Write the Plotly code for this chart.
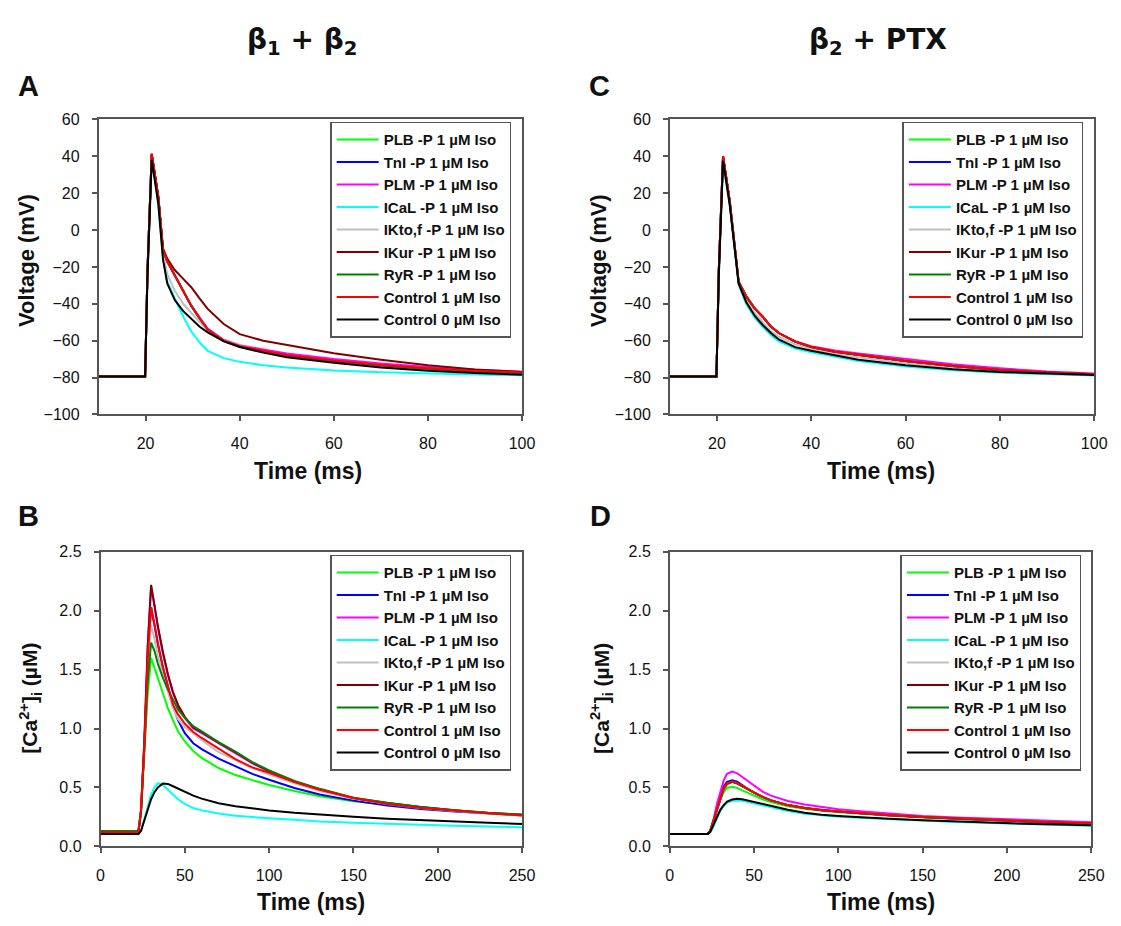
import plotly.graph_objects as go

# ---------------- data ----------------
SERIES = ["PLB -P 1 µM Iso", "TnI -P 1 µM Iso", "PLM -P 1 µM Iso", "ICaL -P 1 µM Iso",
          "IKto,f -P 1 µM Iso", "IKur -P 1 µM Iso", "RyR -P 1 µM Iso",
          "Control 1 µM Iso", "Control 0 µM Iso"]
COLORS = ["#00ff00", "#0000ff", "#ff00ff", "#00ffff", "#c0c0c0", "#800000", "#008000", "#ff0000", "#000000"]

# action potential time (ms)
T_AP = [10, 19.9, 20.4, 21.3, 22.7, 23.7, 24.6, 26.2, 28, 29.7, 31.5, 33.2, 36.6, 40, 45, 50, 60, 70, 80, 90, 100]

# Panel A: beta1 + beta2 voltage (mV)
A_PLB   = [-79.5, -79.5, -22, 41.0, 18, -11, -17, -24.5, -33, -41, -48, -54, -60.0, -63.2, -65.8, -68.2, -71.3, -73.8, -75.6, -76.9, -77.7]
A_TNI   = [-79.5, -79.5, -22, 41.0, 18, -11, -17, -24.5, -33, -41, -48, -54, -60.0, -63.3, -66.0, -68.4, -71.5, -74.0, -75.8, -77.1, -77.9]
A_PLM   = [-79.5, -79.5, -22, 41.5, 18, -11, -17, -24.5, -33, -41, -47.5, -53.5, -59.5, -62.5, -64.8, -67.0, -70.0, -72.4, -74.3, -75.8, -76.8]
A_ICAL  = [-79.5, -79.5, -25, 40.0, 15, -15, -28, -37.0, -47, -55, -61, -65.5, -69.5, -71.5, -73.3, -74.6, -76.2, -77.2, -77.9, -78.4, -78.8]
A_IKTO  = [-79.5, -79.5, -24, 40.0, 16, -13, -24, -33.0, -40, -45, -50, -54, -59.8, -62.8, -65.8, -68.3, -71.3, -73.8, -75.7, -77.0, -78.0]
A_IKUR  = [-79.5, -79.5, -22, 41.0, 18, -10, -15.5, -21.7, -26.5, -31, -37.2, -42.8, -51, -56.5, -60, -62.3, -66.8, -70.3, -73.3, -75.6, -77.0]
A_RYR   = [-79.5, -79.5, -22, 41.0, 18, -11, -17, -24.5, -33, -41, -48, -54, -60.0, -63.0, -65.7, -68.0, -71.0, -73.5, -75.3, -76.7, -77.5]
A_CTRL1 = [-79.5, -79.5, -22, 41.5, 18, -11, -17, -24.5, -33, -41, -48, -54, -60.0, -63.0, -65.5, -67.8, -70.8, -73.2, -75.0, -76.4, -77.3]
A_CTRL0 = [-79.5, -79.5, -25, 38.0, 14, -16, -29, -38.0, -44, -48.4, -52.5, -55.5, -60.4, -63.4, -66.5, -69.0, -72.0, -74.5, -76.3, -77.6, -78.5]

# Panel C: beta2 + PTX voltage (mV)
C_PLB   = [-79.5, -79.5, -22, 40.0, 16, -8, -28, -36, -42.5, -47, -52.5, -56, -60.5, -63.5, -66.1, -67.9, -71.2, -74.0, -76.0, -77.4, -78.3]
C_TNI   = [-79.5, -79.5, -22, 40.0, 16, -8, -28, -36, -42.5, -47, -52.5, -56, -60.5, -63.4, -66.0, -67.8, -71.1, -73.9, -76.0, -77.3, -78.2]
C_PLM   = [-79.5, -79.5, -22, 40.0, 16, -8, -28, -36, -42.5, -47, -52.5, -56, -60.3, -63.0, -65.3, -67.0, -70.0, -72.8, -75.0, -76.7, -77.8]
C_ICAL  = [-79.5, -79.5, -25, 37.0, 14, -10, -29.5, -40, -47.5, -52.5, -57, -60.5, -64.3, -66.3, -68.8, -71.0, -74.0, -76.0, -77.4, -78.3, -78.9]
C_IKTO  = [-79.5, -79.5, -24, 38.0, 15, -9, -28.5, -38, -45, -50, -55, -58, -62.0, -64.5, -67.0, -69.0, -72.3, -74.8, -76.5, -77.7, -78.5]
C_IKUR  = [-79.5, -79.5, -22, 40.0, 16, -8, -28, -36, -42.5, -47, -52.5, -56, -60.5, -63.4, -66.0, -67.7, -71.0, -73.8, -75.9, -77.3, -78.2]
C_RYR   = [-79.5, -79.5, -22, 40.0, 16, -8, -28, -36, -42.5, -47, -52.5, -56, -60.5, -63.4, -66.0, -67.7, -71.0, -73.8, -75.9, -77.3, -78.2]
C_CTRL1 = [-79.5, -79.5, -22, 40.0, 16, -8, -28, -36, -42.5, -47, -52.5, -56, -60.5, -63.4, -66.0, -67.7, -71.0, -73.8, -75.9, -77.3, -78.2]
C_CTRL0 = [-79.5, -79.5, -25, 37.5, 14, -10, -29, -39, -46.5, -51.5, -56, -59.5, -63.5, -65.5, -68.0, -70.3, -73.3, -75.5, -77.0, -78.0, -78.6]

# calcium transient time (ms)
T_CA = [0, 22.5, 24, 26, 28, 30, 32, 34, 37, 40, 43, 46, 50, 55, 60, 70, 80, 90, 100, 115, 130, 150, 170, 190, 210, 230, 250]

# Panel B: beta1 + beta2 [Ca2+]i (µM)
B_PLB   = [0.13, 0.13, 0.28, 0.75, 1.30, 1.60, 1.52, 1.43, 1.30, 1.17, 1.07, 0.975, 0.89, 0.81, 0.75, 0.665, 0.605, 0.56, 0.52, 0.47, 0.425, 0.383, 0.352, 0.325, 0.30, 0.28, 0.262]
B_TNI   = [0.12, 0.12, 0.30, 0.85, 1.60, 2.03, 1.88, 1.72, 1.52, 1.35, 1.19, 1.07, 0.96, 0.875, 0.825, 0.745, 0.68, 0.615, 0.565, 0.495, 0.44, 0.388, 0.347, 0.317, 0.295, 0.278, 0.265]
B_PLM   = [0.13, 0.13, 0.30, 0.90, 1.70, 2.20, 2.04, 1.86, 1.64, 1.45, 1.30, 1.19, 1.09, 1.00, 0.96, 0.875, 0.795, 0.705, 0.635, 0.545, 0.48, 0.405, 0.365, 0.331, 0.305, 0.282, 0.267]
B_ICAL  = [0.105, 0.105, 0.13, 0.24, 0.35, 0.44, 0.50, 0.535, 0.52, 0.48, 0.44, 0.40, 0.36, 0.325, 0.305, 0.278, 0.26, 0.248, 0.238, 0.225, 0.21, 0.20, 0.19, 0.181, 0.175, 0.168, 0.161]
B_IKTO  = [0.13, 0.13, 0.29, 0.85, 1.55, 1.88, 1.76, 1.62, 1.45, 1.30, 1.17, 1.08, 1.01, 0.96, 0.90, 0.80, 0.73, 0.665, 0.61, 0.535, 0.47, 0.405, 0.36, 0.325, 0.30, 0.28, 0.262]
B_IKUR  = [0.13, 0.13, 0.30, 0.90, 1.70, 2.22, 2.05, 1.87, 1.65, 1.46, 1.31, 1.20, 1.10, 1.01, 0.97, 0.88, 0.80, 0.71, 0.64, 0.55, 0.485, 0.41, 0.368, 0.333, 0.306, 0.283, 0.268]
B_RYR   = [0.13, 0.13, 0.28, 0.80, 1.40, 1.73, 1.66, 1.55, 1.43, 1.33, 1.24, 1.16, 1.09, 1.02, 0.975, 0.885, 0.805, 0.715, 0.645, 0.555, 0.488, 0.412, 0.37, 0.334, 0.307, 0.284, 0.269]
B_CTRL1 = [0.12, 0.12, 0.30, 0.85, 1.60, 2.03, 1.88, 1.72, 1.52, 1.35, 1.20, 1.12, 1.04, 0.97, 0.92, 0.83, 0.74, 0.67, 0.625, 0.545, 0.48, 0.41, 0.36, 0.325, 0.30, 0.28, 0.262]
B_CTRL0 = [0.105, 0.105, 0.13, 0.22, 0.32, 0.40, 0.46, 0.50, 0.533, 0.53, 0.51, 0.49, 0.46, 0.43, 0.405, 0.365, 0.34, 0.32, 0.305, 0.285, 0.268, 0.25, 0.235, 0.222, 0.21, 0.20, 0.19]

# Panel D: beta2 + PTX [Ca2+]i (µM)
D_PLB   = [0.105, 0.105, 0.13, 0.21, 0.31, 0.40, 0.46, 0.495, 0.506, 0.495, 0.475, 0.455, 0.43, 0.40, 0.375, 0.34, 0.318, 0.302, 0.29, 0.275, 0.26, 0.245, 0.233, 0.221, 0.211, 0.202, 0.194]
D_TNI   = [0.105, 0.105, 0.13, 0.22, 0.34, 0.44, 0.51, 0.548, 0.561, 0.548, 0.52, 0.49, 0.458, 0.42, 0.39, 0.35, 0.325, 0.307, 0.295, 0.278, 0.263, 0.248, 0.235, 0.222, 0.212, 0.203, 0.195]
D_PLM   = [0.105, 0.105, 0.13, 0.23, 0.36, 0.47, 0.56, 0.615, 0.635, 0.62, 0.59, 0.555, 0.515, 0.465, 0.43, 0.385, 0.355, 0.332, 0.315, 0.295, 0.278, 0.258, 0.245, 0.234, 0.224, 0.214, 0.205]
D_ICAL  = [0.105, 0.105, 0.12, 0.17, 0.24, 0.30, 0.34, 0.37, 0.387, 0.39, 0.386, 0.376, 0.362, 0.347, 0.33, 0.30, 0.277, 0.262, 0.252, 0.24, 0.23, 0.218, 0.207, 0.197, 0.189, 0.182, 0.175]
D_IKTO  = [0.105, 0.105, 0.13, 0.22, 0.33, 0.42, 0.49, 0.53, 0.547, 0.535, 0.51, 0.485, 0.455, 0.42, 0.39, 0.35, 0.325, 0.307, 0.295, 0.278, 0.263, 0.248, 0.235, 0.222, 0.212, 0.203, 0.195]
D_IKUR  = [0.105, 0.105, 0.13, 0.22, 0.33, 0.42, 0.49, 0.53, 0.547, 0.535, 0.51, 0.485, 0.455, 0.42, 0.39, 0.35, 0.325, 0.307, 0.295, 0.278, 0.263, 0.248, 0.235, 0.222, 0.212, 0.203, 0.195]
D_RYR   = [0.105, 0.105, 0.13, 0.22, 0.33, 0.42, 0.49, 0.53, 0.547, 0.535, 0.51, 0.485, 0.455, 0.42, 0.39, 0.35, 0.325, 0.307, 0.295, 0.278, 0.263, 0.248, 0.235, 0.222, 0.212, 0.203, 0.195]
D_CTRL1 = [0.105, 0.105, 0.13, 0.22, 0.33, 0.42, 0.49, 0.53, 0.547, 0.535, 0.51, 0.485, 0.455, 0.42, 0.39, 0.35, 0.325, 0.307, 0.295, 0.278, 0.263, 0.248, 0.235, 0.222, 0.212, 0.203, 0.195]
D_CTRL0 = [0.105, 0.105, 0.12, 0.18, 0.25, 0.31, 0.35, 0.38, 0.397, 0.403, 0.40, 0.39, 0.375, 0.36, 0.342, 0.31, 0.285, 0.268, 0.258, 0.245, 0.235, 0.222, 0.21, 0.20, 0.192, 0.185, 0.178]

PANEL_A = [A_PLB, A_TNI, A_PLM, A_ICAL, A_IKTO, A_IKUR, A_RYR, A_CTRL1, A_CTRL0]
PANEL_B = [B_PLB, B_TNI, B_PLM, B_ICAL, B_IKTO, B_IKUR, B_RYR, B_CTRL1, B_CTRL0]
PANEL_C = [C_PLB, C_TNI, C_PLM, C_ICAL, C_IKTO, C_IKUR, C_RYR, C_CTRL1, C_CTRL0]
PANEL_D = [D_PLB, D_TNI, D_PLM, D_ICAL, D_IKTO, D_IKUR, D_RYR, D_CTRL1, D_CTRL0]

# ---------------- figure ----------------
W, H = 1121, 926
def px(x): return x / W
def py(y): return 1 - y / H

FONT = "Liberation Sans, Arial, sans-serif"
fig = go.Figure()

panels = [
    (PANEL_A, T_AP, "x", "y", "legend"),
    (PANEL_B, T_CA, "x2", "y2", "legend2"),
    (PANEL_C, T_AP, "x3", "y3", "legend3"),
    (PANEL_D, T_CA, "x4", "y4", "legend4"),
]
for data, t, xa, ya, lg in panels:
    for name, col, vals in zip(SERIES, COLORS, data):
        fig.add_trace(go.Scatter(x=t, y=vals, mode="lines", name=name, xaxis=xa, yaxis=ya,
                                 legend=lg, line=dict(color=col, width=2)))

axis_common = dict(showline=True, linecolor="#555555", linewidth=1.5, mirror=True,
                   ticks="outside", ticklen=5, tickwidth=1.5, tickcolor="#555555",
                   showgrid=False, zeroline=False,
                   tickfont=dict(family=FONT, size=16, color="#111111"))

domA_x = [px(96), px(526)]
domC_x = [px(676), px(1107)]
domD_x = [px(676), px(1104)]
domB_x = [px(98), px(526)]
dom_top = [py(414), py(113.5)]
dom_bot = [py(854), py(554)]

fig.update_layout(
    width=W, height=H, margin=dict(l=0, r=0, t=0, b=0),
    paper_bgcolor="white", plot_bgcolor="white",
    xaxis=dict(domain=domA_x, range=[10, 100], tick0=0, dtick=20, anchor="y", ticklabelstandoff=9, **axis_common),
    yaxis=dict(domain=dom_top, range=[-100, 60], dtick=20, anchor="x", ticklabelstandoff=9, **axis_common),
    xaxis2=dict(domain=domB_x, range=[0, 250], dtick=50, anchor="y2", ticklabelstandoff=9, **axis_common),
    yaxis2=dict(domain=dom_bot, range=[0, 2.5], dtick=0.5, tickformat=".1f", anchor="x2", ticklabelstandoff=9, **axis_common),
    xaxis3=dict(domain=domC_x, range=[10, 100], tick0=0, dtick=20, anchor="y3", ticklabelstandoff=9, **axis_common),
    yaxis3=dict(domain=dom_top, range=[-100, 60], dtick=20, anchor="x3", ticklabelstandoff=9, **axis_common),
    xaxis4=dict(domain=domD_x, range=[0, 250], dtick=50, anchor="y4", ticklabelstandoff=9, **axis_common),
    yaxis4=dict(domain=dom_bot, range=[0, 2.5], dtick=0.5, tickformat=".1f", anchor="x4", ticklabelstandoff=9, **axis_common),
)

leg_common = dict(bgcolor="white", bordercolor="#555555", borderwidth=1.5,
                  font=dict(family=FONT, size=15, color="#111111", weight="bold"),
                  xanchor="right", yanchor="top", itemwidth=42, tracegroupgap=0)
fig.update_layout(
    legend=dict(x=px(515), y=py(116), **leg_common),
    legend2=dict(x=px(515), y=py(557), **leg_common),
    legend3=dict(x=px(1096), y=py(116), **leg_common),
    legend4=dict(x=px(1094), y=py(557), **leg_common),
)

def ann(text, x, y, size, angle=0, bold=True, family=FONT):
    fig.add_annotation(text=text, x=px(x), y=py(y), xref="paper", yref="paper",
                       showarrow=False, textangle=angle, xanchor="center", yanchor="middle",
                       font=dict(family=family, size=size, color="#111111", weight="bold" if bold else "normal"))

TITLE_FONT = "DejaVu Sans, Liberation Sans, Arial, sans-serif"
ann("β<sub>1</sub> + β<sub>2</sub>", 303, 34, 28, family=TITLE_FONT)
ann("β<sub>2</sub> + PTX", 887, 34, 28, family=TITLE_FONT)
ann("A", 25, 79, 29)
ann("B", 25, 518, 29)
ann("C", 605, 79, 29)
ann("D", 606, 518, 29)
ann("Voltage (mV)", 23, 257, 22, angle=-90)
ann("Voltage (mV)", 603, 257, 22, angle=-90)
ann("[Ca<sup>2+</sup>]<sub>i</sub> (µM)", 26, 703, 21, angle=-90)
ann("[Ca<sup>2+</sup>]<sub>i</sub> (µM)", 606, 703, 21, angle=-90)
ann("Time (ms)", 309, 472, 23)
ann("Time (ms)", 890, 472, 23)
ann("Time (ms)", 312, 911, 23)
ann("Time (ms)", 890, 911, 23)

fig.write_html("out.html")
